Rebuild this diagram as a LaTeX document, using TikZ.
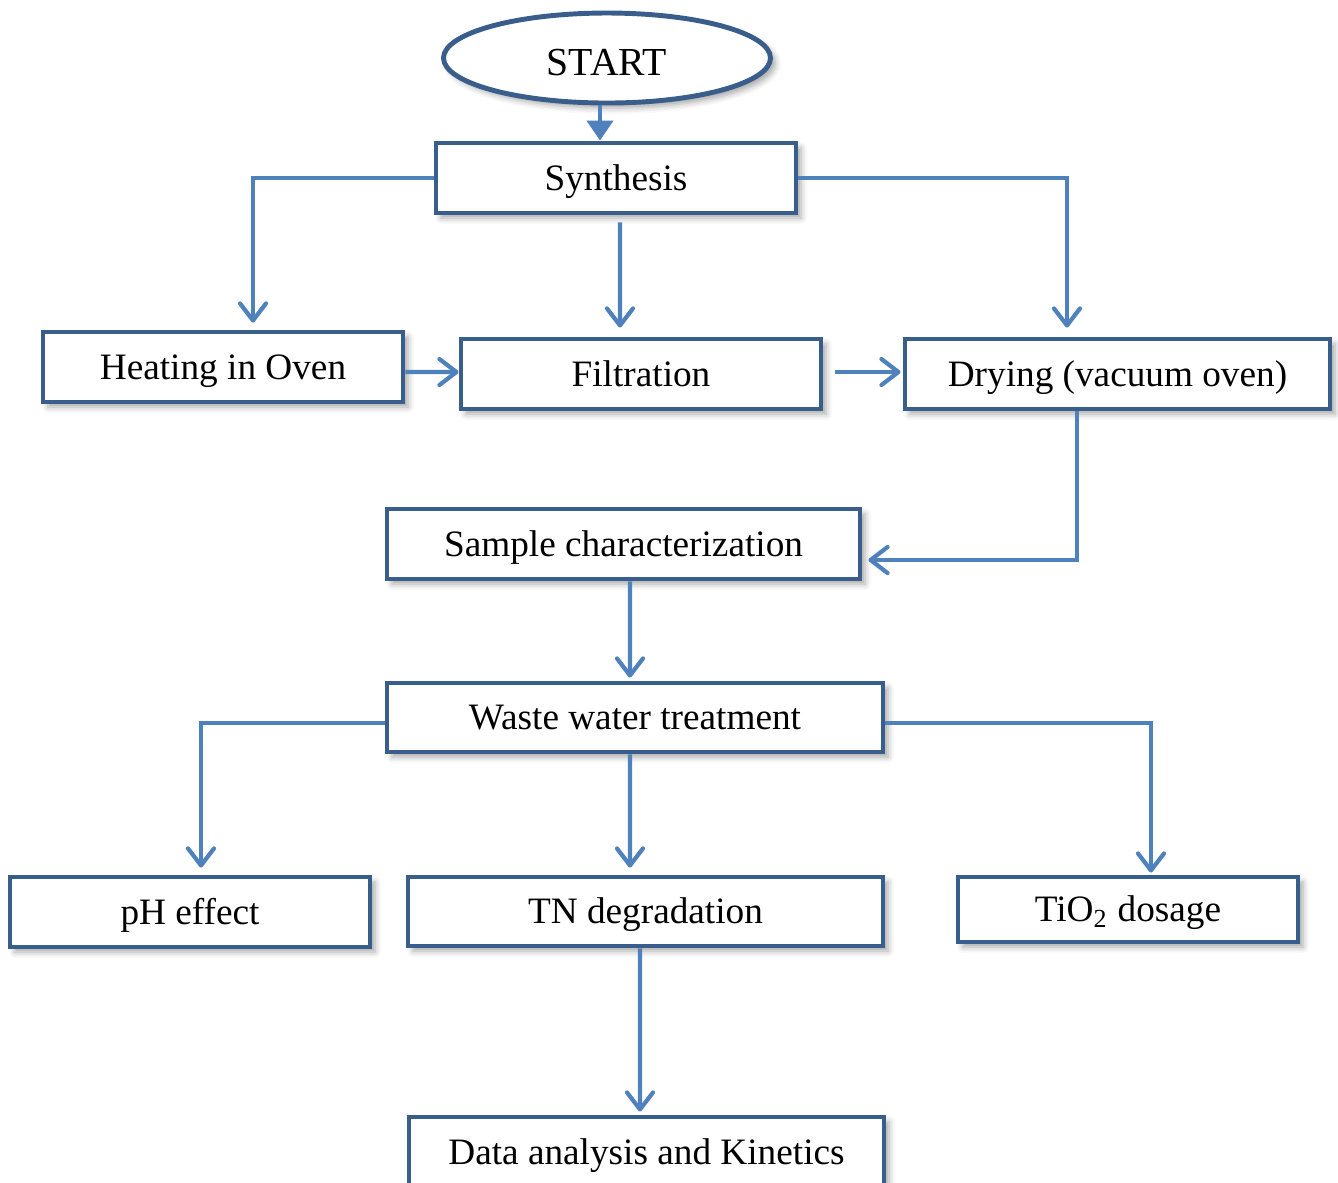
\documentclass[tikz,border=0pt]{standalone}
\usepackage{fontspec}
\setmainfont{Liberation Serif}
\usetikzlibrary{arrows.meta,shapes.geometric,shadows.blur}
\definecolor{boxblue}{RGB}{58,94,140}
\definecolor{linkblue}{RGB}{79,129,189}
\tikzset{
  stepbox/.style={draw=boxblue,line width=1.4pt,fill=white,minimum height=0.7cm,inner sep=0pt,
    text height=0.3cm,text depth=0.06cm,
    font=\fontsize{10.6}{12}\selectfont,
    blur shadow={shadow xshift=0.05cm,shadow yshift=-0.05cm,shadow blur radius=0.06cm,shadow opacity=35}},
  startnode/.style={stepbox,ellipse,minimum width=3.27cm,minimum height=0.9cm,
    text height=0.34cm,text depth=0cm,font=\fontsize{11.3}{13}\selectfont},
  link/.style={draw=linkblue,line width=1.2pt,-{Straight Barb[length=0.17cm,width=0.26cm,round]}},
  startlink/.style={draw=linkblue,line width=1.2pt,-{Triangle[length=0.2cm,width=0.26cm]}}
}
\begin{document}
\begin{tikzpicture}
  \useasboundingbox (0,0) rectangle (13.38,-11.82);

  % Process steps
  \node[startnode] (start) at (6.07,-0.58) {START};
  \node[stepbox,minimum width=3.6cm] (synth) at (6.16,-1.78) {Synthesis};
  \node[stepbox,minimum width=3.6cm] (heat) at (2.23,-3.67) {Heating in Oven};
  \node[stepbox,minimum width=3.6cm] (filt) at (6.41,-3.74) {Filtration};
  \node[stepbox,minimum width=4.25cm] (dry) at (11.175,-3.74) {Drying (vacuum oven)};
  \node[stepbox,minimum width=4.73cm] (samp) at (6.235,-5.44) {Sample characterization};
  \node[stepbox,minimum width=4.96cm,minimum height=0.69cm] (waste) at (6.35,-7.175) {Waste water treatment};

  % Treatment studies
  \node[stepbox,minimum width=3.6cm] (ph) at (1.90,-9.12) {pH effect};
  \node[stepbox,minimum width=4.75cm,minimum height=0.69cm] (tn) at (6.455,-9.115) {TN degradation};
  \node[stepbox,minimum width=3.4cm,minimum height=0.65cm] (tio) at (11.28,-9.095) {TiO\textsubscript{2} dosage};
  \node[stepbox,minimum width=4.75cm] (data) at (6.465,-11.52) {Data analysis and Kinetics};

  % Connectors
  \draw[startlink] ([xshift=-0.07cm]start.south) -- ([xshift=-0.16cm]synth.north);
  \draw[link,shorten >=0.07cm] (synth.west) -| ([xshift=0.3cm]heat.north);
  \draw[link,shorten <=0.07cm,shorten >=0.09cm] ([xshift=0.04cm]synth.south) -- ([xshift=-0.21cm]filt.north);
  \draw[link,shorten >=0.09cm] (synth.east) -| ([xshift=-0.505cm]dry.north);
  \draw[link] ([yshift=-0.05cm]heat.east) -- ([yshift=0.02cm]filt.west);
  \draw[link,shorten <=0.12cm,shorten >=0.02cm] ([yshift=0.02cm]filt.east) -- ([yshift=0.02cm]dry.west);
  \draw[link,shorten >=0.06cm] ([xshift=-0.405cm]dry.south) |- ([yshift=-0.16cm]samp.east);
  \draw[link,shorten >=0.03cm] ([xshift=0.065cm]samp.south) -- ([xshift=-0.05cm]waste.north);
  \draw[link,shorten >=0.07cm] ([yshift=-0.055cm]waste.west) -| ([xshift=0.11cm]ph.north);
  \draw[link,shorten >=0.07cm] ([xshift=-0.05cm]waste.south) -- ([xshift=-0.155cm]tn.north);
  \draw[link,shorten >=0.02cm] ([yshift=-0.055cm]waste.east) -| ([xshift=0.23cm]tio.north);
  \draw[link,shorten >=0.03cm] ([xshift=-0.055cm]tn.south) -- ([xshift=-0.065cm]data.north);
\end{tikzpicture}
\end{document}
